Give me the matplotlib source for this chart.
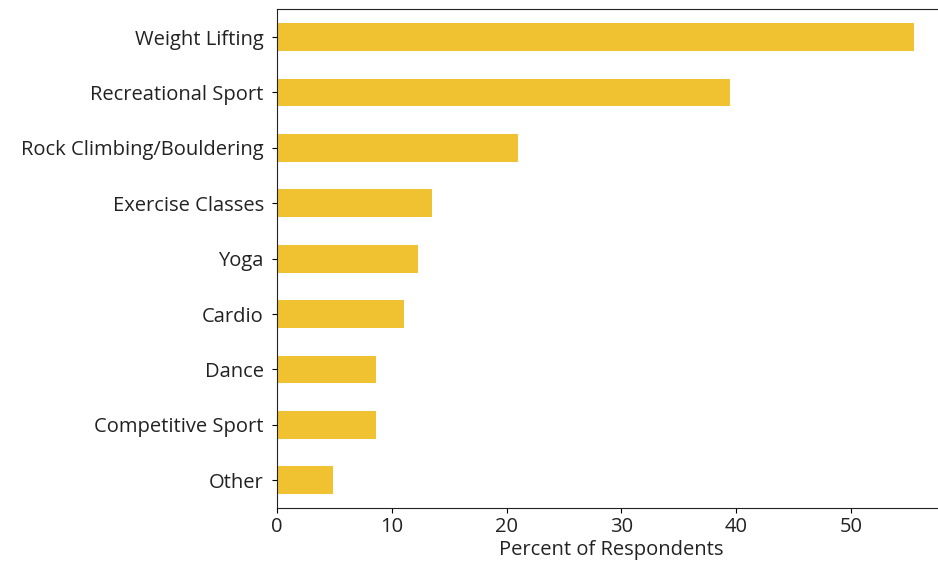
import matplotlib.pyplot as plt

plt.rcParams['font.family'] = ['Open Sans', 'DejaVu Sans']

# activity categories, bottom to top as drawn
activities = ['Other', 'Competitive Sport', 'Dance', 'Cardio', 'Yoga',
              'Exercise Classes', 'Rock Climbing/Bouldering',
              'Recreational Sport', 'Weight Lifting']
percents = [4.9, 8.6, 8.6, 11.1, 12.3, 13.5, 21.0, 39.5, 55.5]

fig = plt.figure(figsize=(9.38, 5.61), dpi=100)
# axes run a bit past the right/top of the canvas (the original was cropped)
ax = fig.add_axes([0.2953, 0.0945, 0.7132, 0.8889])

ax.barh(range(len(activities)), percents, height=0.5, color='#F0C232')
ax.set_yticks(range(len(activities)))
ax.set_yticklabels(activities, fontsize=14.5, color='#222222')
ax.set_ylim(-0.5, len(activities) - 0.5)
ax.set_xlim(0, max(percents) * 1.05)
ax.set_xticks([0, 10, 20, 30, 40, 50])
ax.tick_params(axis='y', pad=6)
ax.tick_params(axis='x', labelsize=14.5, labelcolor='#222222', pad=3)
ax.set_xlabel('Percent of Respondents', fontsize=14.5, color='#222222', labelpad=2)

for s in ax.spines.values():
    s.set_color('#222222')

fig.savefig('out.png', dpi=100)
